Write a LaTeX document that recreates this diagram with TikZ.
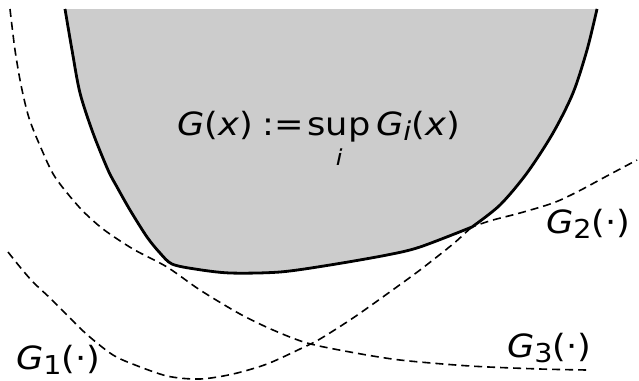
\documentclass[tikz,border=0pt]{standalone}
\usepackage{fontspec}
\setmainfont{DejaVu Sans}
\tikzset{
  gfill/.style={fill=black!20,draw=none},
  gcurve/.style={line width=1.6pt,dash pattern=on 8pt off 5pt},
  gbound/.style={line width=2.8pt,line join=round},
  lbl/.style={font=\fontsize{32}{36}\selectfont,inner sep=0pt},
}
\newcommand{\gsub}[1]{\raisebox{-5pt}{\fontsize{26}{28}\selectfont #1}}
\newcommand{\gname}[1]{\scalebox{1.1}[1]{\textit{G}\gsub{#1}(⋅)}}
\newcommand{\supi}{{\setbox0\hbox{sup}\rlap{\hbox to\wd0{\hss\raisebox{-30pt}[0pt][0pt]{\fontsize{22}{24}\selectfont\itshape i}\hss}}\box0}}

\begin{document}
\begin{tikzpicture}[x=1pt,y=-1pt]
 \useasboundingbox (0,0) rectangle (639,380);
 % shaded set above all curves
 \fill[gfill] plot[smooth] coordinates {(65,9) (72,50) (80,93) (93,133) (108,170) (117,187) (130,210) (147,237) (160,253) (172,264) (195,269) (230,273) (280,272) (330,265) (387,255) (420,247) (472,227)}
   -- plot[smooth] coordinates {(472,227) (500,205) (527,173) (553,133) (573,93) (587,50) (597,9)} -- cycle;
 % the three curves
 \draw[gcurve] plot[smooth] coordinates {(8,252) (20,267) (33,282) (50,298) (65,313) (82,330) (97,343) (113,355) (130,363) (167,376) (200,379) (233,374) (267,364) (300,349) (320,339) (353,318) (387,294) (420,270) (453,244) (472,227) (500,205) (527,173) (553,133) (573,93) (587,50) (597,9)};
 \draw[gcurve] plot[smooth] coordinates {(65,9) (72,50) (80,93) (93,133) (108,170) (117,187) (130,210) (147,237) (160,253) (172,264) (195,269) (230,273) (280,272) (330,265) (387,255) (420,247) (472,227) (493,220) (520,213) (553,203) (577,192) (605,177) (637,160)};
 \draw[gcurve] plot[smooth] coordinates {(10,9) (15,50) (21,85) (29,118) (41,148) (55,177) (80,208) (103,229) (133,249) (167,267) (200,290) (240,314) (273,330) (307,343) (350,352) (400,360) (470,366) (540,369) (587,370)};
 % boundary of G
 \draw[gbound] plot[smooth] coordinates {(65,9) (72,50) (80,93) (93,133) (108,170) (117,187) (130,210) (147,237) (160,253) (172,264) (195,269) (230,273) (280,272) (330,265) (387,255) (420,247) (472,227)}
   -- plot[smooth] coordinates {(472,227) (500,205) (527,173) (553,133) (573,93) (587,50) (597,9)};
 % labels
 \node[lbl,anchor=base west] (gsup) at (177,135) {\scalebox{1.1}[1]{\textit{G}(\textit{x})\hspace{9pt}:=\hspace{3pt}\supi\hspace{5pt}\textit{G}\gsub{\itshape i}(\textit{x})}};
 \node[lbl,anchor=base west] (g1) at (16,369) {\gname{1}};
 \node[lbl,anchor=base west] (g2) at (546,233) {\gname{2}};
 \node[lbl,anchor=base west] (g3) at (507,357) {\gname{3}};
\end{tikzpicture}
\end{document}
